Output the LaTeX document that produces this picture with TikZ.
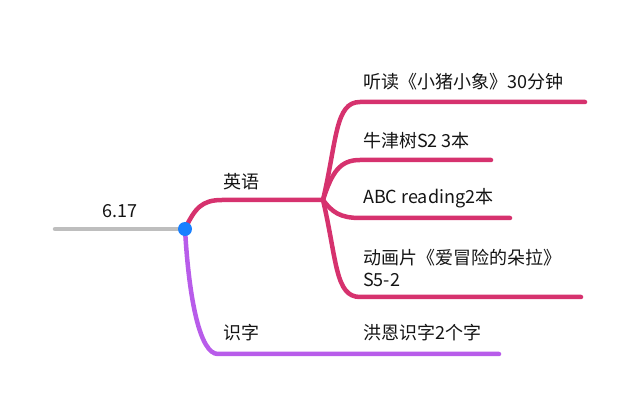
\documentclass[tikz,border=0pt]{standalone}
\usepackage{fontspec}
\usepackage{tikz}
\usetikzlibrary{positioning}
\newfontfamily\cjk{Noto Sans CJK SC}
\definecolor{mygray}{RGB}{190,190,190}
\definecolor{myblue}{RGB}{24,128,255}
\definecolor{mypink}{RGB}{214,50,110}
\definecolor{mypurple}{RGB}{184,92,234}
\definecolor{mytext}{RGB}{20,20,20}
\tikzset{
  label/.style={anchor=west, inner sep=0pt, font=\cjk\fontsize{18}{22}\selectfont,
    text=mytext, align=left},
  rootline/.style={line width=4.5pt, color=mygray, line cap=round},
  pinkline/.style={line width=4.5pt, color=mypink, line cap=round},
  purpleline/.style={line width=4.5pt, color=mypurple, line cap=round},
  hub/.style={circle, fill=myblue, minimum size=14pt, inner sep=0pt}
}
\begin{document}
\begin{tikzpicture}[x=1pt, y=-1pt]
  \useasboundingbox (0,0) rectangle (640,411);

  % --- ROOT ---
  \coordinate (r_start) at (55,229);
  \coordinate (r_hub) at (185,229);
  \node[label, anchor=center] (r_lbl) at (120,211) {6.17};
  \draw[rootline] (r_start) -- (r_hub);

  % --- ENGLISH BRANCH ---
  \coordinate (e_bend) at (222,200);
  \coordinate (e_fan) at (323,200);
  \node[label] (e_lbl) at (223,182) {英语};
  \draw[pinkline] (r_hub) .. controls (195,208) and (202,200) .. (e_bend) -- (e_fan);

  \coordinate (e1_a) at (360,102);  \coordinate (e1_b) at (585,102);
  \coordinate (e2_a) at (360,160);  \coordinate (e2_b) at (491,160);
  \coordinate (e3_a) at (360,218);  \coordinate (e3_b) at (510,218);
  \coordinate (e4_a) at (360,297);  \coordinate (e4_b) at (581,297);

  \node[label] (e1_lbl) at (363,82) {听读《小猪小象》30分钟};
  \node[label] (e2_lbl) at (363,141) {牛津树S2 3本};
  \node[label] (e3_lbl) at (363,198) {ABC reading2本};
  \node[label] (e4_lbl) at (363,268) {动画片《爱冒险的朵拉》\\S5-2};

  \draw[pinkline] (e_fan) .. controls (337,140) and (335,102) .. (e1_a) -- (e1_b);
  \draw[pinkline] (e_fan) .. controls (332,172) and (340,160) .. (e2_a) -- (e2_b);
  \draw[pinkline] (e_fan) .. controls (332,212) and (340,218) .. (e3_a) -- (e3_b);
  \draw[pinkline] (e_fan) .. controls (337,260) and (335,297) .. (e4_a) -- (e4_b);

  % --- READING BRANCH ---
  \coordinate (c_bend) at (218,354);
  \coordinate (c_end) at (499,354);
  \node[label] (c_lbl) at (223,333) {识字};
  \node[label] (c1_lbl) at (363,333) {洪恩识字2个字};
  \draw[purpleline] (r_hub) .. controls (189,300) and (200,354) .. (c_bend) -- (c_end);

  \node[hub] (hub) at (r_hub) {};
\end{tikzpicture}
\end{document}
